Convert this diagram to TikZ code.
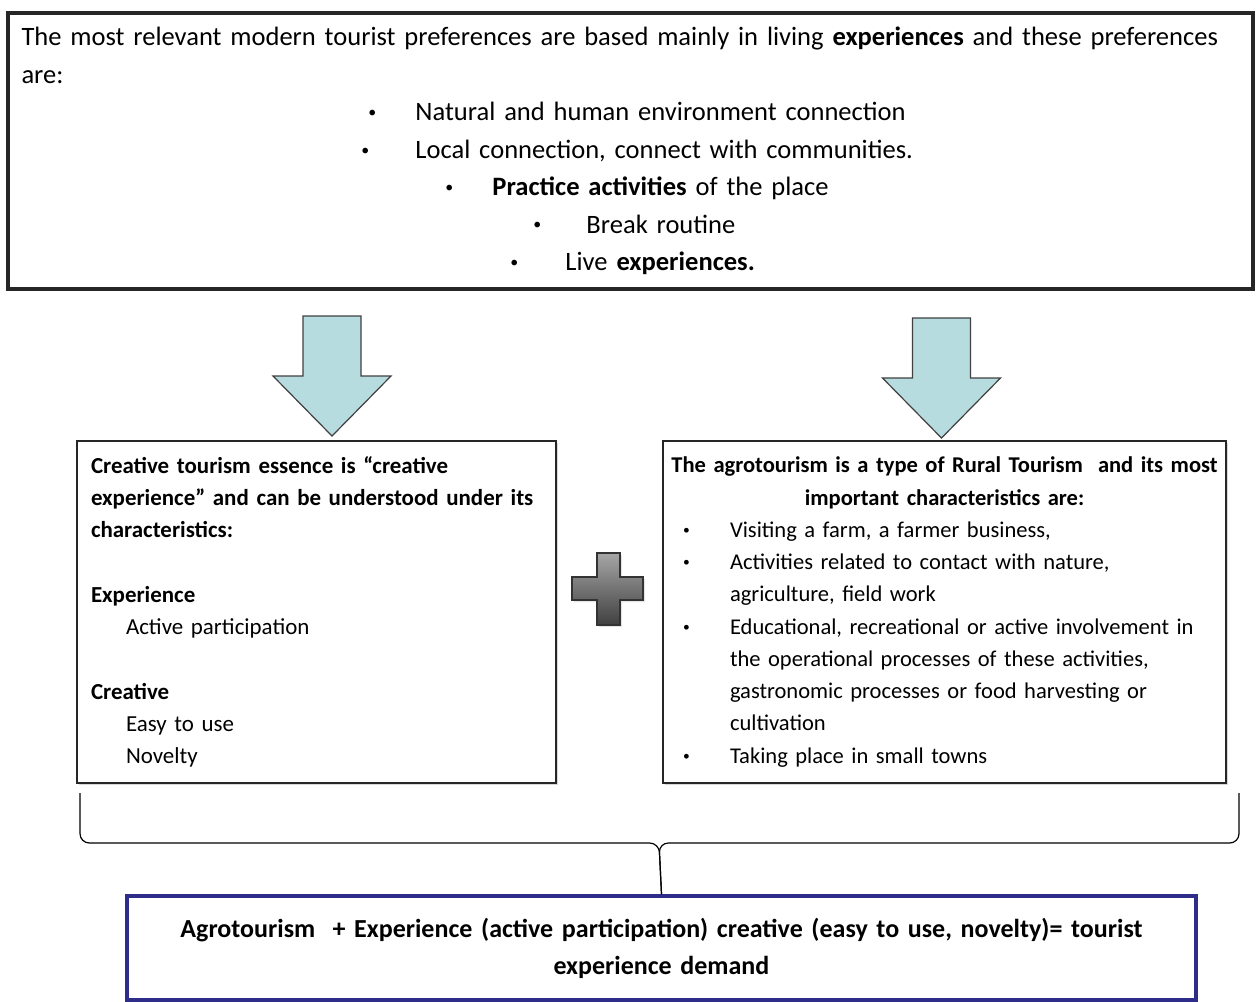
\documentclass[tikz,border=0pt]{standalone}
\usepackage{fontspec}
\usepackage{graphicx}
\setmainfont{Carlito}
\usetikzlibrary{positioning, calc, shadows}

\newlength\px
\setlength\px{0.75pt}
\definecolor{arrowblue}{RGB}{183,220,223}
\definecolor{goalblue}{RGB}{46,46,138}

% bullet lines of the top box and of the agrotourism box
\newcommand{\smallbul}{\raisebox{0.12em}{\scalebox{0.6}{\textbullet}}}
\newcommand{\topbul}[3]{\hspace*{#1\px}\makebox[#2\px][l]{\smallbul}#3}
\newcommand{\agbul}[1]{\hspace*{4\px}\makebox[47\px][l]{\smallbul}#1}
\newcommand{\agmore}[1]{\hspace*{51\px}#1}
\newcommand{\aghead}[1]{\makebox[531\px][c]{\textbf{#1}}}

\tikzset{
  box/.style={draw=black!85, line width=1.9pt, fill=white, inner sep=0pt,
    drop shadow={shadow xshift=1.5pt, shadow yshift=-1.5pt, fill=black!30}},
  topbox/.style={box, line width=2.3pt, minimum width=1245*\px, minimum height=276*\px,
    text width=1218*\px, align=left, font=\fontsize{19.9}{28.1}\selectfont},
  sidebox/.style={box, minimum height=342*\px, align=left,
    font=\fontsize{17.2}{24.2}\selectfont},
  goalbox/.style={draw=goalblue, line width=3pt, fill=white, inner sep=0pt,
    minimum width=1069*\px, minimum height=104*\px, text width=1040*\px,
    align=center, font=\bfseries\fontsize{19.5}{27.75}\selectfont},
  bigarrow/.style={fill=arrowblue, draw=black!75, line width=0.9pt, line join=miter},
  plusbox/.style={draw=black!80, line width=1pt, top color=black!35, bottom color=black!75,
    drop shadow={shadow xshift=1.5pt, shadow yshift=-1.5pt, fill=black!20}},
  brace/.style={draw=black, line width=0.9pt, rounded corners=7pt},
  downarrow/.pic={
    \path[bigarrow] (-29,-120) -- (29,-120) -- (29,-60) -- (59,-60) -- (0,0)
      -- (-59,-60) -- (-29,-60) -- cycle;
  }
}

\begin{document}
\begin{tikzpicture}[x=0.75pt, y=-0.75pt]
  \useasboundingbox (0,0) rectangle (1257,1001);

  % top box
  \node[topbox] (prefs) at (630.5,151) {%
    \makebox[1218\px][s]{The most relevant modern tourist preferences are based mainly in living \textbf{experiences} and these preferences}\\
    are:\\
    \topbul{347}{47}{Natural and human environment connection}\\
    \topbul{340}{54}{Local connection, connect with communities.}\\
    \topbul{424}{47}{\textbf{Practice activities} of the place}\\
    \topbul{512}{53}{Break routine}\\
    \topbul{489}{55}{Live \textbf{experiences.}}};

  \pic at (332,436) {downarrow};
  \pic at (941.5,438) {downarrow};

  % the two boxes
  \node[sidebox, minimum width=479*\px, text width=451*\px] (creative) at (316.5,612) {%
    \textbf{Creative tourism essence is “creative}\\
    \textbf{experience” and can be understood under its}\\
    \textbf{characteristics:}\\
    ~\\
    \textbf{Experience}\\
    \hspace*{35\px}Active participation\\
    ~\\
    \textbf{Creative}\\
    \hspace*{35\px}Easy to use\\
    \hspace*{35\px}Novelty};

  \node[sidebox, minimum width=563*\px, text width=531*\px,
        font=\fontsize{16.9}{24.2}\selectfont] (agro) at (944.5,612) {%
    \aghead{The agrotourism is a type of Rural Tourism\ \ and its most}\\
    \aghead{important characteristics are:}\\
    \agbul{Visiting a farm, a farmer business,}\\
    \agbul{Activities related to contact with nature,}\\
    \agmore{agriculture, field work}\\
    \agbul{Educational, recreational or active involvement in}\\
    \agmore{the operational processes of these activities,}\\
    \agmore{gastronomic processes or food harvesting or}\\
    \agmore{cultivation}\\
    \agbul{Taking place in small towns}};

  % plus sign
  \path[plusbox] (597,553) -- (620,553) -- (620,577) -- (643,577) -- (643,600)
    -- (620,600) -- (620,625) -- (597,625) -- (597,600) -- (572,600)
    -- (572,577) -- (597,577) -- cycle;

  % result
  \node[goalbox] (goal) at (661.5,948) {Agrotourism\ \ + Experience (active participation) creative (easy to use, novelty)= tourist\\ experience demand};

  \coordinate (braceL) at (80,793);
  \coordinate (braceR) at (1239,793);
  \draw[brace] (braceL) -- (80,843) -- (659,843) -- (goal.north);
  \draw[brace] (braceR) -- (1239,843) -- (659,843) -- (goal.north);
\end{tikzpicture}
\end{document}
